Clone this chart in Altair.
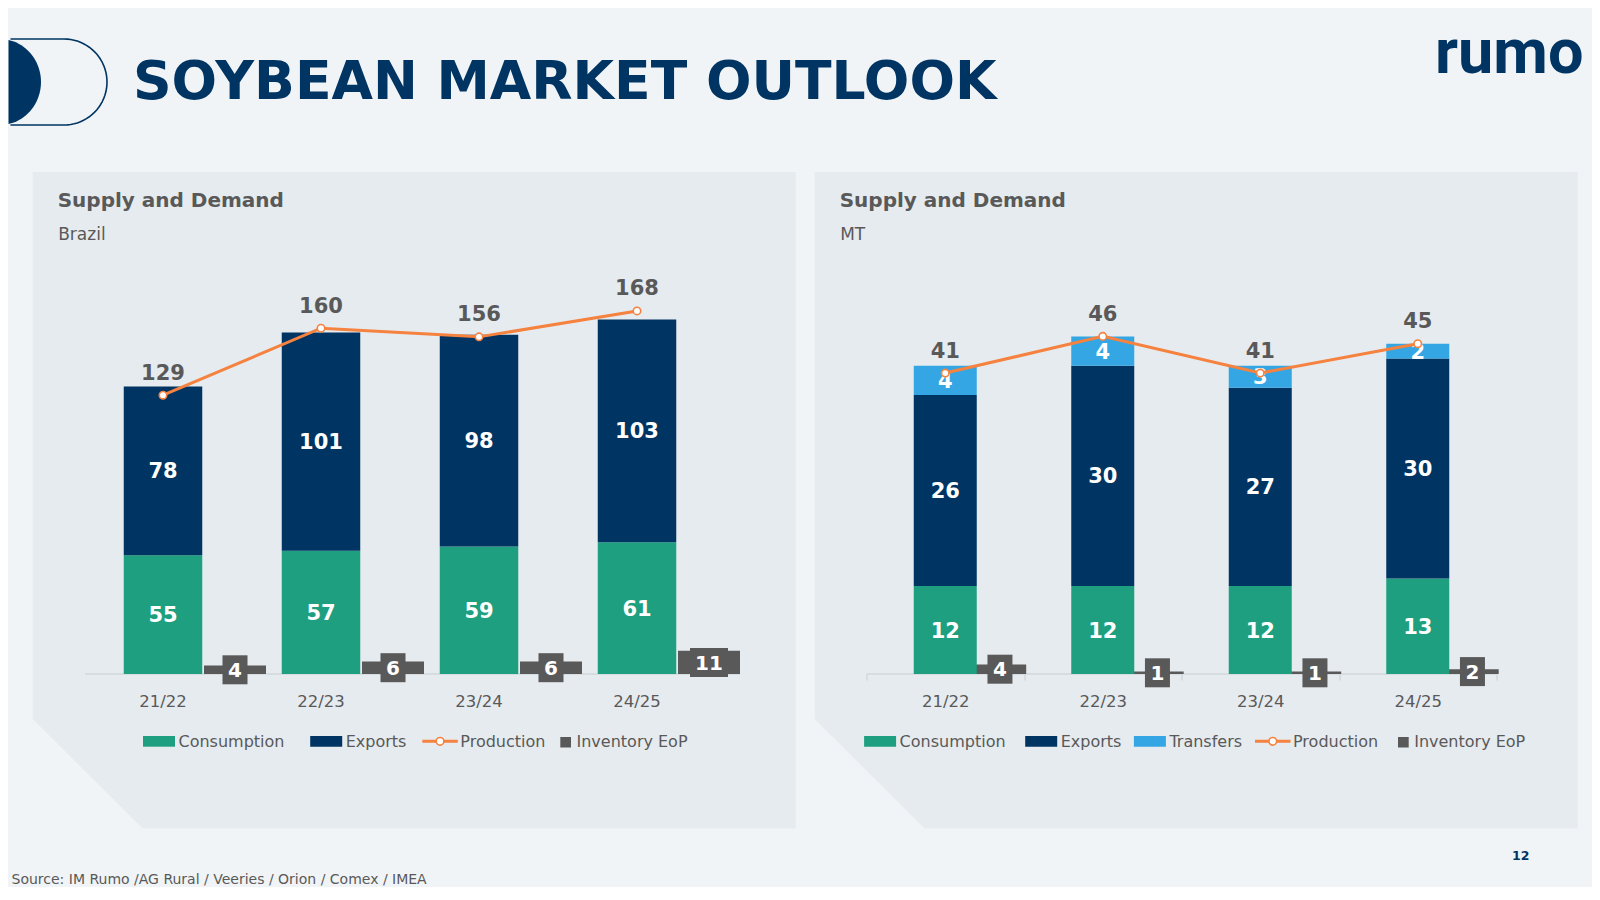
import math
import altair as alt
import pandas as pd

# ---------------- data ----------------
years = ["21/22", "22/23", "23/24", "24/25"]

brazil_consumption = [55, 57, 59, 61]
brazil_exports = [78, 101, 98, 103]
brazil_production = [129, 160, 156, 168]
brazil_inventory = [4, 6, 6, 11]

mt_consumption = [12, 12, 12, 13]
mt_exports = [26, 30, 27, 30]
mt_transfers = [4, 4, 3, 2]
mt_production = [41, 46, 41, 45]
mt_inventory = [4, 1, 1, 2]

series_names = ["Consumption", "Exports", "Transfers", "Production", "Inventory EoP"]

page_title = "SOYBEAN MARKET OUTLOOK"
panel_title = "Supply and Demand"
panel_subtitles = ["Brazil", "MT"]
source_note = "Source: IM Rumo /AG Rural / Veeries / Orion / Comex / IMEA"
page_number = "12"
logo_text = "rumo"

# ---------------- style ----------------
NAVY = "#003462"
GREEN = "#1E9F7F"
LIGHT_BLUE = "#35A6E4"
ORANGE = "#F5823F"
GRAY = "#595959"
PANEL_BG = "#E6EBEF"
PAGE_BG = "#F1F4F6"
AXIS_GRAY = "#D2D7DB"
FONT = "DejaVu Sans"
SERIES_COLOR = {"Consumption": GREEN, "Exports": NAVY, "Transfers": LIGHT_BLUE,
                "Production": ORANGE, "Inventory EoP": GRAY}
STACK_SERIES = ["Consumption", "Exports", "Transfers"]

H = 389            # plot height
BASE_Y = 674       # page y of the category axis
TOP = BASE_Y - H
LEFT_ORIGIN = (84, TOP)
RIGHT_ORIGIN = (866.5, TOP)
LEFT_W = 632
RIGHT_W = 630


def one_row(**kw):
    d = {"k": [0]}
    for k, v in kw.items():
        d[k] = [v]
    return pd.DataFrame(d)


def shape_layer(points, origin, fill=None, stroke=None, stroke_width=1.5, closed=True):
    ox, oy = origin
    xs = [p[0] for p in points]
    ys = [p[1] for p in points]
    cx = (min(xs) + max(xs)) / 2
    cy = (min(ys) + max(ys)) / 2
    s = max(max(xs) - min(xs), max(ys) - min(ys))
    half = s / 2
    d = "M" + " L".join(f"{(x - cx) / half:.5f},{(y - cy) / half:.5f}" for x, y in points)
    if closed:
        d += " Z"
    if fill is not None:
        mk = alt.Chart(one_row()).mark_point(shape=d, size=s * s, filled=True, color=fill,
                                             opacity=1, strokeWidth=0)
    else:
        mk = alt.Chart(one_row()).mark_point(shape=d, size=s * s, filled=False, color=stroke,
                                             opacity=1, strokeWidth=stroke_width,
                                             strokeJoin="round", strokeCap="butt")
    return mk.encode(x=alt.value(cx - ox), y=alt.value(cy - oy))


def rect_layer(x1, y1, x2, y2, color, origin):
    ox, oy = origin
    return alt.Chart(one_row()).mark_rect(color=color, opacity=1).encode(
        x=alt.value(x1 - ox), x2=alt.value(x2 - ox), y=alt.value(y1 - oy), y2=alt.value(y2 - oy))


def text_layer(txt, x, y, origin, size, color, weight="normal", align="left", font=FONT):
    ox, oy = origin
    return alt.Chart(one_row(t=txt)).mark_text(
        align=align, baseline="alphabetic", font=font, fontSize=size,
        fontWeight=weight, color=color).encode(
        x=alt.value(x - ox), y=alt.value(y - oy), text="t:N")


def hrule_layer(x1, x2, y, origin, color, width):
    ox, oy = origin
    return alt.Chart(one_row()).mark_rule(color=color, strokeWidth=width).encode(
        x=alt.value(x1 - ox), x2=alt.value(x2 - ox), y=alt.value(y - oy))


def dot_layer(x, y, origin, size=55):
    ox, oy = origin
    return alt.Chart(one_row()).mark_point(filled=True, fill="white", stroke=ORANGE,
                                           strokeWidth=1.6, size=size, opacity=1).encode(
        x=alt.value(x - ox), y=alt.value(y - oy))


def legend_layers(items, origin):
    layers = []
    for name, kind, x0 in items:
        color = SERIES_COLOR[name]
        if kind == "box":
            layers.append(rect_layer(x0, 736, x0 + 32, 746.7, color, origin))
            tx = x0 + 35.5
        elif kind == "line":
            layers.append(hrule_layer(x0, x0 + 35.5, 741.3, origin, color, 3))
            layers.append(dot_layer(x0 + 17.75, 741.3, origin, size=60))
            tx = x0 + 38
        else:
            layers.append(rect_layer(x0, 737, x0 + 10.7, 747.5, color, origin))
            tx = x0 + 16.2
        layers.append(text_layer(name, tx, 747, origin, 16, GRAY))
    return layers


def panel_bg(x1, x2, origin):
    pts = [(x1, 172), (x2, 172), (x2, 828.5), (x1 + 110, 828.5), (x1, 719)]
    return shape_layer(pts, origin, fill=PANEL_BG)


def x_enc(axis):
    return alt.X("year:N", sort=years, title=None,
                 scale=alt.Scale(domain=years, paddingInner=0, paddingOuter=0), axis=axis)


def build_panel(origin, width, subtitle, parts, production, inventory, ymax, inv_max,
                bar_w, inv_w, inv_off, axis, legend_items, bg_x, pre_layers, post_layers):
    rows = []
    for name, vals in parts:
        for yv, v in zip(years, vals):
            rows.append({"year": yv, "series": name, "value": v,
                         "order": STACK_SERIES.index(name)})
    stack_df = pd.DataFrame(rows)
    prod_df = pd.DataFrame({"year": years, "value": production})
    inv_df = pd.DataFrame({"year": years, "value": inventory})
    inv_df["label"] = [str(v) for v in inventory]

    X = x_enc(axis)
    yscale = alt.Scale(domain=[0, ymax], nice=False, zero=True)
    iscale = alt.Scale(domain=[0, inv_max], nice=False, zero=True)

    inv_bars = alt.Chart(inv_df).mark_bar(width=inv_w, xOffset=inv_off, color=GRAY).encode(
        x=X, y=alt.Y("value:Q", scale=iscale, axis=None))

    bars = alt.Chart(stack_df).mark_bar(width=bar_w).encode(
        x=X,
        y=alt.Y("value:Q", stack="zero", scale=yscale, axis=None),
        color=alt.Color("series:N", legend=None,
                        scale=alt.Scale(domain=STACK_SERIES,
                                        range=[SERIES_COLOR[n] for n in STACK_SERIES])),
        order=alt.Order("order:Q", sort="ascending"))

    bar_labels = alt.Chart(stack_df).transform_stack(
        stack="value", groupby=["year"], sort=[alt.SortField("order", order="ascending")],
        as_=["v0", "v1"]).transform_calculate(mid="(datum.v0 + datum.v1) / 2").mark_text(
        color="white", font=FONT, fontSize=21, fontWeight="bold", baseline="alphabetic",
        dy=7.6).encode(x=X, y=alt.Y("mid:Q", scale=yscale, axis=None), text="value:Q")

    box_base = alt.Chart(inv_df).transform_calculate(
        mid="datum.value / 2",
        box="length(datum.label) > 1 ? 'M-1,-0.763 L1,-0.763 L1,0.763 L-1,0.763 Z' : 'M-0.862,-1 L0.862,-1 L0.862,1 L-0.862,1 Z'",
        bsize="length(datum.label) > 1 ? 1444 : 841")
    inv_boxes = box_base.mark_point(filled=True, color=GRAY, opacity=1, strokeWidth=0,
                                    xOffset=inv_off).encode(
        x=X, y=alt.Y("mid:Q", scale=iscale, axis=None),
        shape=alt.Shape("box:N", scale=None), size=alt.Size("bsize:Q", scale=None))
    inv_text = box_base.mark_text(color="white", font=FONT, fontSize=20, fontWeight="bold",
                                  baseline="alphabetic", dy=7.3, xOffset=inv_off).encode(
        x=X, y=alt.Y("mid:Q", scale=iscale, axis=None), text="label:N")

    line = alt.Chart(prod_df).mark_line(color=ORANGE, strokeWidth=3).encode(
        x=X, y=alt.Y("value:Q", scale=yscale, axis=None))
    pts = alt.Chart(prod_df).mark_point(filled=True, fill="white", stroke=ORANGE, strokeWidth=1.6,
                                        size=55, opacity=1).encode(
        x=X, y=alt.Y("value:Q", scale=yscale, axis=None))
    prod_labels = alt.Chart(prod_df).mark_text(
        color=GRAY, font=FONT, fontSize=21, fontWeight="bold", baseline="alphabetic",
        dy=-15.5).encode(x=X, y=alt.Y("value:Q", scale=yscale, axis=None), text="value:Q")

    bg_layers = [panel_bg(bg_x[0], bg_x[1], origin),
                 text_layer(panel_title, bg_x[0] + 25, 207.3, origin, 20, GRAY, weight="bold"),
                 text_layer(subtitle, bg_x[0] + 25.5, 240, origin, 17, GRAY)]

    layers = (pre_layers + bg_layers + post_layers +
              [inv_bars, bars, bar_labels, inv_boxes, inv_text, line, pts, prod_labels] +
              legend_layers(legend_items, origin))
    return alt.layer(*layers).resolve_scale(y="independent").properties(width=width, height=H)


# ---------------- page decorations (drawn in the left panel's frame) ----------------
O = LEFT_ORIGIN
page_layers = [rect_layer(8, 8, 1592, 887, PAGE_BG, O)]

# filled half-disc at the left edge
th0 = math.acos(8.5 / 41)
d_pts = [(41 * math.cos(t), 82 + 43 * math.sin(t))
         for t in [-th0 + i * (2 * th0) / 40 for i in range(41)]]
page_layers.append(shape_layer(d_pts, O, fill=NAVY))
# outlined capsule
cap_pts = [(10.5, 39), (64, 39)] + [(64 + 43 * math.cos(t), 82 + 43 * math.sin(t))
                                    for t in [-math.pi / 2 + i * math.pi / 40 for i in range(41)]] + [(10.5, 125)]
page_layers.append(shape_layer(cap_pts, O, stroke=NAVY, stroke_width=1.6, closed=False))

page_layers += [
    text_layer(page_title, 133, 98.5, O, 53.6, NAVY, weight="bold"),
    text_layer(logo_text, 1435, 73.3, O, 63, NAVY, weight="bold", font="Roboto"),
    text_layer(page_number, 1512, 860, O, 12.5, NAVY, weight="bold"),
    text_layer(source_note, 11.5, 883.5, O, 14, GRAY),
]

left_axis = alt.Axis(domain=False, ticks=False, tickSize=0, labelPadding=19.5, labelFont=FONT,
                     labelFontSize=16.5, labelColor=GRAY, labelAngle=0, grid=False, zindex=1)
right_axis = alt.Axis(domain=False, ticks=True,
                      tickBand="extent", tickSize=6, tickColor=AXIS_GRAY, tickWidth=1.5,
                      labelPadding=13.5, labelFont=FONT, labelFontSize=16.5, labelColor=GRAY,
                      labelAngle=0, grid=False, zindex=1)

left = build_panel(
    LEFT_ORIGIN, LEFT_W, panel_subtitles[0],
    [("Consumption", brazil_consumption), ("Exports", brazil_exports)],
    brazil_production, brazil_inventory, 180, 185,
    78.5, 62, 72, left_axis,
    [("Consumption", "box", 143), ("Exports", "box", 310.2),
     ("Production", "line", 422.3), ("Inventory EoP", "square", 560.3)],
    (32.7, 795.7), page_layers,
    [hrule_layer(85, 740, BASE_Y, LEFT_ORIGIN, AXIS_GRAY, 1.5)])

right = build_panel(
    RIGHT_ORIGIN, RIGHT_W, panel_subtitles[1],
    [("Consumption", mt_consumption), ("Exports", mt_exports), ("Transfers", mt_transfers)],
    mt_production, mt_inventory, 53.0, 162,
    63, 52.5, 54.7, right_axis,
    [("Consumption", "box", 864.1), ("Exports", "box", 1025.2), ("Transfers", "box", 1133.9),
     ("Production", "line", 1255), ("Inventory EoP", "square", 1398)],
    (814.7, 1577.7), [],
    [hrule_layer(RIGHT_ORIGIN[0], RIGHT_ORIGIN[0] + RIGHT_W, BASE_Y, RIGHT_ORIGIN, AXIS_GRAY, 1.5)])

chart = alt.hconcat(left, right, spacing=RIGHT_ORIGIN[0] - LEFT_ORIGIN[0] - LEFT_W,
                    bounds="flush").resolve_scale(color="independent").properties(
    background=PAGE_BG, padding=0, autosize=alt.AutoSizeParams(type="pad")
).configure_view(strokeWidth=0)

chart.save("out.html", embed_options={"renderer": "svg", "actions": False})
